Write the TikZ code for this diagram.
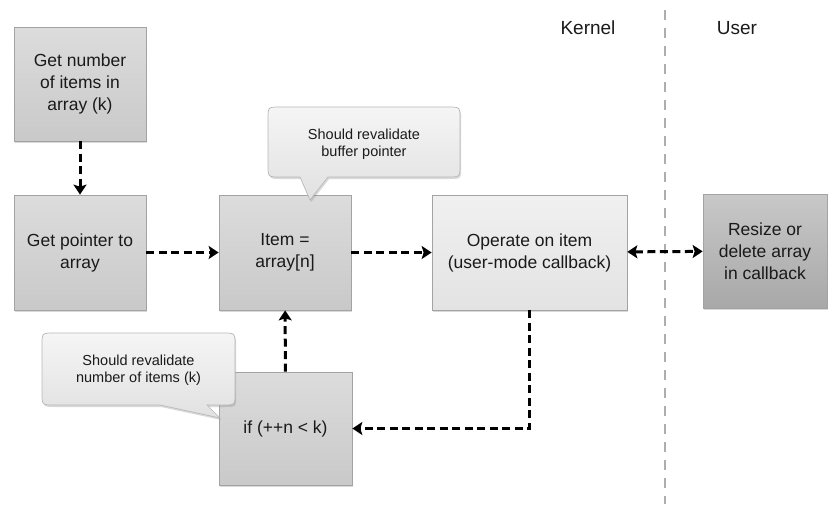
\documentclass[tikz,border=0pt]{standalone}
\usepackage{fontspec}
\setmainfont{Liberation Sans}
\usetikzlibrary{arrows.meta,shadows}
\definecolor{bordergray}{HTML}{A3A3A3}
\definecolor{boxtop}{HTML}{DCDCDC}
\definecolor{boxbot}{HTML}{C9C9C9}
\definecolor{lighttop}{HTML}{F0F0F0}
\definecolor{lightbot}{HTML}{E3E3E3}
\definecolor{darktop}{HTML}{C8C8C8}
\definecolor{darkbot}{HTML}{A8A8A8}
\definecolor{calltop}{HTML}{F5F5F5}
\definecolor{callbot}{HTML}{E1E1E1}
\definecolor{callborder}{HTML}{B8B8B8}
\definecolor{divgray}{HTML}{AEAEAE}
\definecolor{textcol}{HTML}{1A1A1A}
\begin{document}
\begin{tikzpicture}[x=1pt,y=-1pt,
  shadowed/.style={drop shadow={shadow xshift=1.2pt, shadow yshift=-2pt, opacity=0.3}},
  procbox/.style={rectangle, draw=bordergray, line width=0.7pt, inner sep=0pt,
    align=center, font=\fontsize{17.5}{22}\selectfont, text=textcol,
    shadowed, top color=boxtop, bottom color=boxbot},
  calloutshape/.style={draw=callborder, line width=0.7pt, shadowed,
    top color=calltop, bottom color=callbot},
  callouttext/.style={align=center, font=\fontsize{14.5}{17.5}\selectfont, text=textcol, inner sep=0pt},
  flow/.style={draw=black, line width=3pt, dash pattern=on 8pt off 4.5pt,
    -{Stealth[length=10pt,width=13pt,inset=2pt]}},
  biflow/.style={flow, {Stealth[length=10pt,width=13pt,inset=2pt]}-{Stealth[length=10pt,width=13pt,inset=2pt]}},
  divider/.style={draw=divgray, line width=2.5pt, dash pattern=on 10pt off 8pt},
  realm/.style={font=\fontsize{19}{22}\selectfont, text=textcol, inner sep=0pt}
]
\useasboundingbox (0,0) rectangle (828,504);

% divider between kernel and user
\coordinate (divtop) at (665,10);
\coordinate (divbot) at (665,504);
\draw[divider] (divtop) -- (divbot);

\node[realm] (kernel) at (588,28) {Kernel};
\node[realm] (user) at (737,28) {User};

% process boxes
\node[procbox, minimum width=132pt, minimum height=114pt] (getnum) at (80,84)
  {Get number\\of items in\\array (k)};
\node[procbox, minimum width=132pt, minimum height=115pt] (getptr) at (80,252.5)
  {Get pointer to\\array};
\node[procbox, minimum width=132pt, minimum height=115pt] (item) at (285,252.5)
  {Item =\\array[n]};
\node[procbox, minimum width=195pt, minimum height=115pt, top color=lighttop, bottom color=lightbot] (operate) at (529.5,252.5)
  {Operate on item\\(user-mode callback)};
\node[procbox, minimum width=124pt, minimum height=114pt, top color=darktop, bottom color=darkbot] (resize) at (765,251)
  {Resize or\\delete array\\in callback};
\node[procbox, minimum width=133pt, minimum height=113pt] (cond) at (285.5,428.5)
  {if (++n < k)};

% connectors
\draw[flow] (getnum) -- (getptr);
\draw[flow] (getptr) -- (item);
\draw[flow] (item) -- (operate);
\draw[biflow] (operate) -- (resize);
\draw[flow] (operate.south) |- (cond.east);
\draw[flow] (cond) -- (item);

% callouts
\path[calloutshape] (310,200) -- (300,177) -- (280,177) .. controls (268,177) .. (268,165)
  -- (268,119) .. controls (268,107) .. (280,107) -- (448,107) .. controls (460,107) .. (460,119)
  -- (460,165) .. controls (460,177) .. (448,177) -- (328,177) -- cycle;
\node[callouttext] (bufnote) at (364,144) {Should revalidate\\buffer pointer};

\path[calloutshape] (220,418) -- (160,405) -- (54,405) .. controls (42,405) .. (42,393)
  -- (42,345) .. controls (42,333) .. (54,333) -- (223,333) .. controls (235,333) .. (235,345)
  -- (235,393) .. controls (235,405) .. (223,405) -- (207,405) -- cycle;
\node[callouttext] (numnote) at (138.5,370) {Should revalidate\\number of items (k)};
\end{tikzpicture}
\end{document}
